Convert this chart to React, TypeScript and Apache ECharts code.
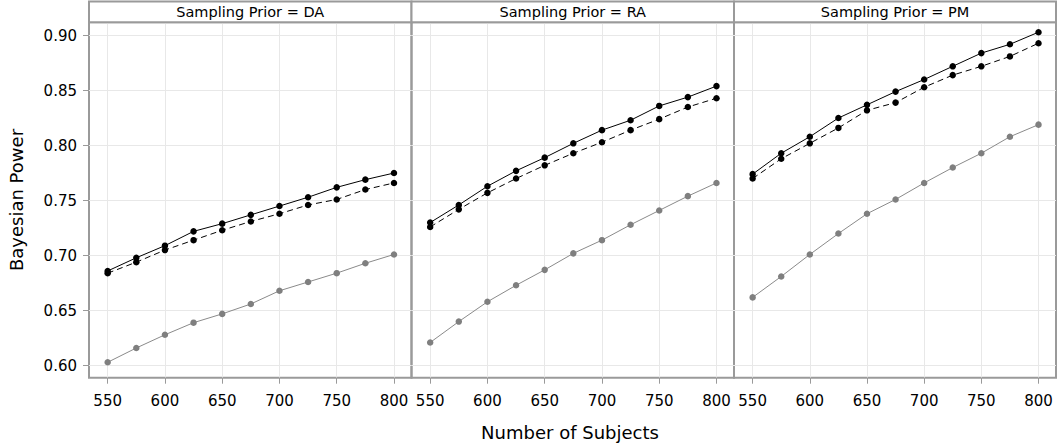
import React, { useEffect, useRef } from "react";
import * as echarts from "echarts";

const subjects = [550, 575, 600, 625, 650, 675, 700, 725, 750, 775, 800];
const xTicks = [550, 600, 650, 700, 750, 800];
const yTicks = [0.6, 0.65, 0.7, 0.75, 0.8, 0.85, 0.9];
const panels = ["DA", "RA", "PM"];

const daSolid = [0.686, 0.698, 0.709, 0.722, 0.729, 0.737, 0.745, 0.753, 0.762, 0.769, 0.775];
const daDashed = [0.684, 0.694, 0.705, 0.714, 0.723, 0.731, 0.738, 0.746, 0.751, 0.760, 0.766];
const daGray = [0.603, 0.616, 0.628, 0.639, 0.647, 0.656, 0.668, 0.676, 0.684, 0.693, 0.701];

const raSolid = [0.730, 0.746, 0.763, 0.777, 0.789, 0.802, 0.814, 0.823, 0.836, 0.844, 0.854];
const raDashed = [0.726, 0.742, 0.757, 0.770, 0.782, 0.793, 0.803, 0.814, 0.824, 0.835, 0.843];
const raGray = [0.621, 0.640, 0.658, 0.673, 0.687, 0.702, 0.714, 0.728, 0.741, 0.754, 0.766];

const pmSolid = [0.774, 0.793, 0.808, 0.825, 0.837, 0.849, 0.860, 0.872, 0.884, 0.892, 0.903];
const pmDashed = [0.770, 0.788, 0.802, 0.816, 0.832, 0.839, 0.853, 0.864, 0.872, 0.881, 0.893];
const pmGray = [0.662, 0.681, 0.701, 0.720, 0.738, 0.751, 0.766, 0.780, 0.793, 0.808, 0.819];

const panelData = [
  { gray: daGray, dashed: daDashed, solid: daSolid },
  { gray: raGray, dashed: raDashed, solid: raSolid },
  { gray: pmGray, dashed: pmDashed, solid: pmSolid },
];

const FONT = "DejaVu Sans";
const BORDER = "#9a9a9a";

export default function App() {
  const ref = useRef<HTMLDivElement>(null);
  useEffect(() => {
    document.body.style.margin = "0";
    if (!ref.current) return;
    const chart = echarts.init(ref.current, undefined, { renderer: "svg" });

    const lefts = [89, 411.5, 734];
    const widths = [322.5, 322.5, 322];
    const top = 22.3;
    const height = 355.4;

    const grids = lefts.map((l, i) => ({
      left: l,
      top,
      width: widths[i],
      height,
      show: true,
      borderColor: BORDER,
      borderWidth: 2,
      backgroundColor: "transparent",
      containLabel: false,
    }));

    const xAxes = lefts.map((_, i) => ({
      type: "value",
      gridIndex: i,
      min: 533.7,
      max: 815.3,
      axisLine: { show: false },
      axisTick: {
        show: true,
        length: 6,
        lineStyle: { color: BORDER, width: 1 },
        customValues: xTicks,
      },
      axisLabel: {
        show: true,
        customValues: xTicks,
        margin: 16,
        fontFamily: FONT,
        fontSize: 15,
        color: "#000",
      },
      splitLine: { show: true, lineStyle: { color: "#e8e8e8", width: 1 } },
    }));

    const yAxes = lefts.map((_, i) => ({
      type: "value",
      gridIndex: i,
      min: 0.589,
      max: 0.912,
      axisLine: { show: false },
      axisTick: {
        show: i === 0,
        length: 6,
        lineStyle: { color: BORDER, width: 1 },
        customValues: yTicks,
      },
      axisLabel: {
        show: i === 0,
        customValues: yTicks,
        margin: 12,
        fontFamily: FONT,
        fontSize: 15,
        color: "#000",
        formatter: (v: number) => v.toFixed(2),
      },
      splitLine: { show: true, lineStyle: { color: "#e8e8e8", width: 1 } },
    }));

    const series: any[] = [];
    panelData.forEach((p, i) => {
      series.push({
        type: "line",
        xAxisIndex: i,
        yAxisIndex: i,
        data: subjects.map((x, k) => [x, p.gray[k]]),
        symbol: "circle",
        symbolSize: 6.5,
        lineStyle: { color: "#8a8a8a", width: 1 },
        itemStyle: { color: "#7f7f7f" },
        z: 2,
      });
      series.push({
        type: "line",
        xAxisIndex: i,
        yAxisIndex: i,
        data: subjects.map((x, k) => [x, p.dashed[k]]),
        symbol: "circle",
        symbolSize: 6.5,
        lineStyle: { color: "#000", width: 1, type: [6, 4] },
        itemStyle: { color: "#000" },
        z: 3,
      });
      series.push({
        type: "line",
        xAxisIndex: i,
        yAxisIndex: i,
        data: subjects.map((x, k) => [x, p.solid[k]]),
        symbol: "circle",
        symbolSize: 6.5,
        lineStyle: { color: "#000", width: 1 },
        itemStyle: { color: "#000" },
        z: 4,
      });
    });

    const graphics: any[] = [];
    panels.forEach((name, i) => {
      graphics.push({
        type: "rect",
        shape: { x: lefts[i], y: 1.5, width: widths[i], height: top - 1.5 },
        style: { fill: "#fff", stroke: BORDER, lineWidth: 2 },
        z: 10,
      });
      graphics.push({
        type: "text",
        x: lefts[i] + widths[i] / 2,
        y: (1.5 + top) / 2 + 0.5,
        style: {
          text: "Sampling Prior = " + name,
          fontFamily: FONT,
          fontSize: 14.5,
          fill: "#000",
          align: "center",
          verticalAlign: "middle",
        },
        z: 11,
      });
    });
    graphics.push({
      type: "text",
      x: 570,
      y: 432,
      style: {
        text: "Number of Subjects",
        fontFamily: FONT,
        fontSize: 18,
        fill: "#000",
        align: "center",
        verticalAlign: "middle",
      },
    });
    graphics.push({
      type: "text",
      x: 16,
      y: 200,
      rotation: Math.PI / 2,
      style: {
        text: "Bayesian Power",
        fontFamily: FONT,
        fontSize: 18,
        fill: "#000",
        align: "center",
        verticalAlign: "middle",
      },
    });

    chart.setOption({
      animation: false,
      backgroundColor: "#fff",
      grid: grids,
      xAxis: xAxes,
      yAxis: yAxes,
      series,
      graphic: graphics,
    });
    return () => chart.dispose();
  }, []);
  return <div ref={ref} style={{ width: 1058, height: 448 }} />;
}
